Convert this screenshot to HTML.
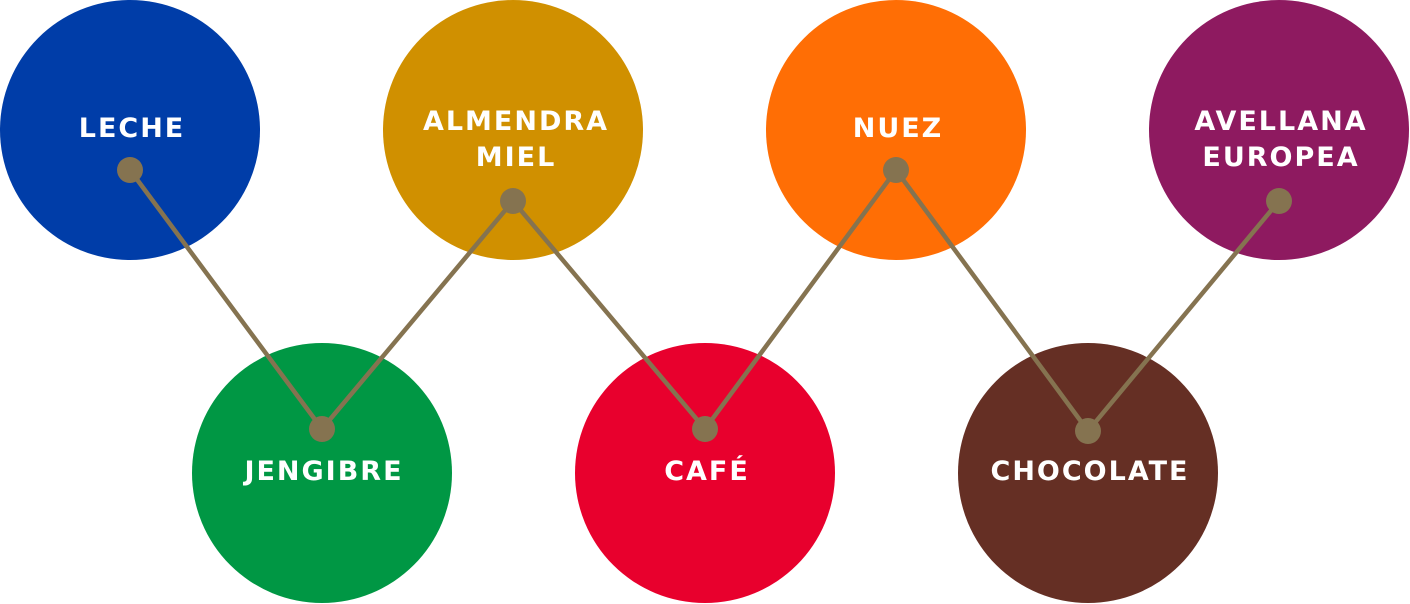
<!DOCTYPE html>
<html><head><meta charset="utf-8"><style>html,body{margin:0;padding:0;background:#fff;}svg{display:block}</style></head>
<body>
<svg width="1410" height="604" viewBox="0 0 1410 604" xmlns="http://www.w3.org/2000/svg">
<g>
<circle cx="130" cy="130" r="130" fill="#003da8"/>
<circle cx="513" cy="130" r="130" fill="#d09000"/>
<circle cx="896" cy="130" r="130" fill="#ff6e05"/>
<circle cx="1279" cy="130" r="130" fill="#8e1a60"/>
<circle cx="322" cy="473" r="130" fill="#009744"/>
<circle cx="705" cy="473" r="130" fill="#e8002d"/>
<circle cx="1088" cy="473" r="130" fill="#652f24"/>
</g>
<g font-family="DejaVu Sans, Verdana, sans-serif" font-weight="bold" font-size="27" fill="#fff" text-anchor="middle" letter-spacing="2">
<text x="132" y="137">LECHE</text>
<text x="516" y="130">ALMENDRA</text>
<text x="516" y="166">MIEL</text>
<text x="898" y="137">NUEZ</text>
<text x="1281" y="130">AVELLANA</text>
<text x="1281" y="166">EUROPEA</text>
<text x="324" y="480">JENGIBRE</text>
<text x="707" y="480">CAFÉ</text>
<text x="1090" y="480">CHOCOLATE</text>
</g>
<polyline points="130,170 322,429 513,201 705,429 896,170 1088,431 1279,201" fill="none" stroke="#857350" stroke-width="4.5"/>
<g fill="#857350">
<circle cx="130" cy="170" r="13"/>
<circle cx="322" cy="429" r="13"/>
<circle cx="513" cy="201" r="13"/>
<circle cx="705" cy="429" r="13"/>
<circle cx="896" cy="170" r="13"/>
<circle cx="1088" cy="431" r="13"/>
<circle cx="1279" cy="201" r="13"/>
</g>
</svg>
</body></html>
